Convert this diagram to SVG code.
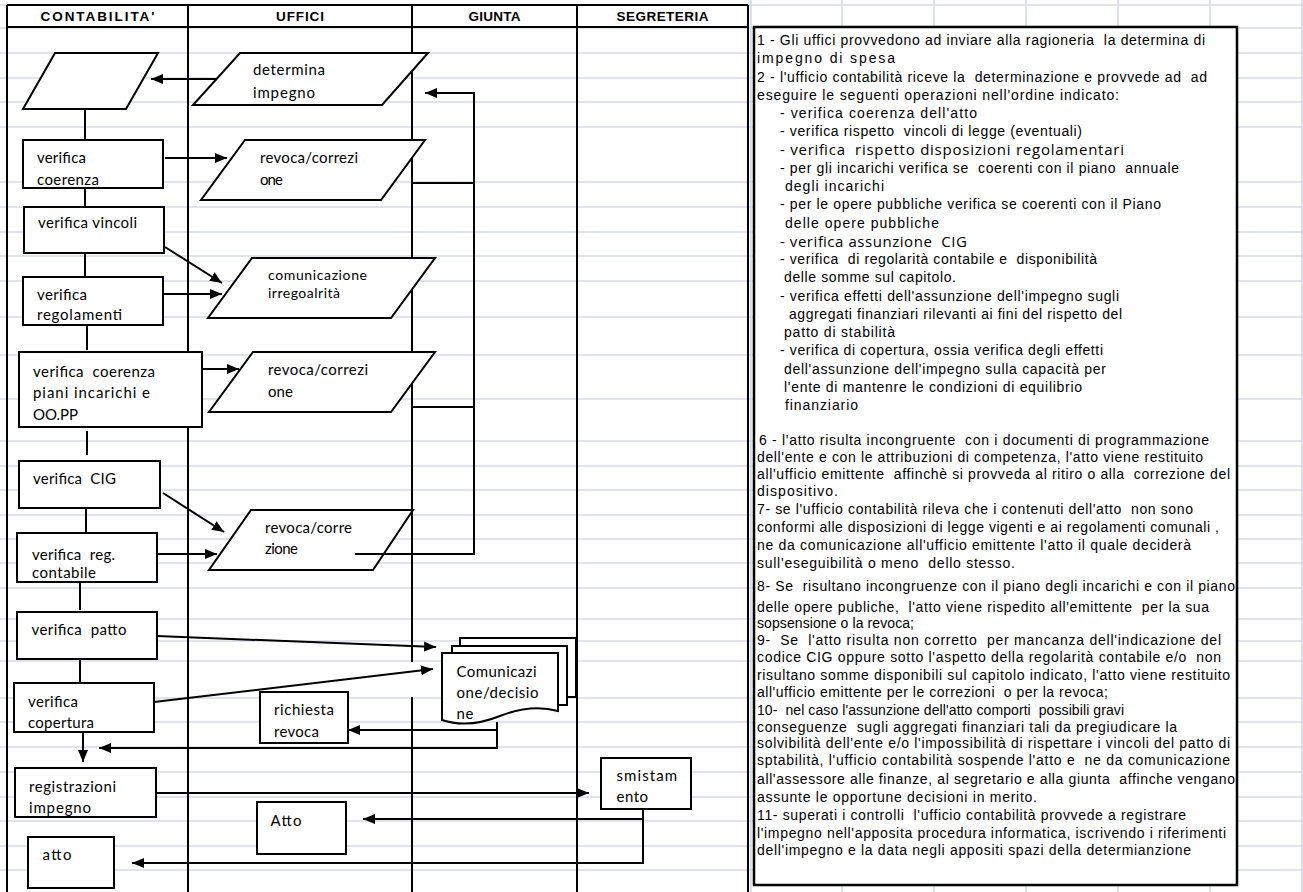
<svg xmlns="http://www.w3.org/2000/svg" width="1303" height="892" viewBox="0 0 1303 892">
<style>
.grid{stroke:#d3dae7;stroke-width:1.6;fill:none}
.lane{stroke:#000;stroke-width:2;fill:none}
.shape{fill:#fff;stroke:#000;stroke-width:2}
.conn{stroke:#000;stroke-width:2;fill:none}
.arr{marker-end:url(#ah)}
.hd{font-family:"Liberation Sans Narrow","Liberation Sans",Arial,sans-serif;font-weight:bold;font-size:13.5px;text-anchor:middle}
.lbl{font-family:Lato,"Liberation Sans",sans-serif;font-size:15px;white-space:pre}
.tx{font-family:"Liberation Sans",Arial,sans-serif;font-size:14px;white-space:pre}
.tx2{font-family:"Open Sans","Liberation Sans",sans-serif;font-size:15px;white-space:pre}
</style>
<defs>
<marker id="ah" markerWidth="13" markerHeight="11" refX="12" refY="5.5" orient="auto" markerUnits="userSpaceOnUse"><path d="M0,0.5 L12,5.5 L0,10.5 z" fill="#000"/></marker>
</defs>
<rect x="0" y="0" width="1303" height="892" fill="#fff"/>
<g id="grid" class="grid">
<path d="M0,5H1303M0,28H1303M0,53H1303M0,78H1303M0,102H1303M0,127H1303M0,182H1303M0,207H1303M0,232H1303M0,256H1303M0,281H1303M0,317H1303M0,355H1303M0,399H1303M0,441H1303M0,466H1303M0,490H1303M0,515H1303M0,539H1303M0,563H1303M0,588H1303M0,619H1303M0,641H1303M0,661H1303M0,698H1303M0,722H1303M0,747H1303M0,772H1303M0,797H1303M0,821H1303M0,846H1303M0,870H1303"/>
<path d="M751,0V892M842,0V892M934,0V892M1026,0V892M1118,0V892M1210,0V892M1302,0V892"/>
</g>
<g id="lanes">
<path class="lane" d="M7,5H748M7,27H748M7,5V892M188,5V892M412,5V662M412,697V892M577,5V892M748,5V892"/>
<text class="hd" x="97.5" y="21" textLength="114">CONTABILITA'</text>
<text class="hd" x="300" y="21" textLength="48">UFFICI</text>
<text class="hd" x="494.5" y="21" textLength="52">GIUNTA</text>
<text class="hd" x="662.5" y="21" textLength="92">SEGRETERIA</text>
</g>
<g id="connectors">
<path class="conn" d="M85,109V140M85,188V207M85,253V277M87,325V350M87,431V455M86,508V533M80,582V610M80,659V685"/>
</g>
<g id="n-start"><polygon class="shape" points="55,53 158,53 126,109 23,109"/></g>
<g id="n-determina"><polygon class="shape" points="240,53 428,53 382,105 193,105"/>
<text class="lbl" x="253" y="75" textLength="72">determina</text><text class="lbl" x="253" y="98" textLength="62">impegno</text></g>
<g id="n-coerenza"><rect class="shape" x="23" y="140" width="140" height="48"/>
<text class="lbl" x="37" y="163" textLength="49">verifica</text><text class="lbl" x="37" y="185" textLength="62">coerenza</text></g>
<g id="n-revoca1"><polygon class="shape" points="245,140 425,140 381,200 201,200"/>
<text class="lbl" x="260" y="163" textLength="98">revoca/correzi</text><text class="lbl" x="260" y="185" textLength="23">one</text></g>
<g id="n-vincoli"><rect class="shape" x="24" y="207" width="140" height="46"/>
<text class="lbl" x="38" y="228" textLength="99">verifica vincoli</text></g>
<g id="n-comunicazione"><polygon class="shape" points="252,258 435,258 391,318 208,318"/>
<text class="lbl" x="268" y="280" textLength="99" style="font-size:14px">comunicazione</text><text class="lbl" x="268" y="298" textLength="72" style="font-size:14px">irregoalrità</text></g>
<g id="n-regolamenti"><rect class="shape" x="23" y="277" width="140" height="48"/>
<text class="lbl" x="37" y="300" textLength="50">verifica</text><text class="lbl" x="37" y="320" textLength="85">regolamenti</text></g>
<g id="n-piani"><rect class="shape" x="19" y="352" width="183" height="75"/>
<text class="lbl" x="33" y="377" textLength="122">verifica  coerenza</text><text class="lbl" x="33" y="398" textLength="117">piani incarichi e</text><text class="lbl" x="33" y="420" textLength="45">OO.PP</text></g>
<g id="n-revoca2"><polygon class="shape" points="253,352 435,352 391,412 209,412"/>
<text class="lbl" x="268" y="375" textLength="100">revoca/correzi</text><text class="lbl" x="268" y="397" textLength="25">one</text></g>
<g id="n-cig"><rect class="shape" x="19" y="461" width="141" height="47"/>
<text class="lbl" x="33" y="484" textLength="83">verifica  CIG</text></g>
<g id="n-revoca3"><polygon class="shape" points="251,510 413,510 373,570 209,570"/>
<text class="lbl" x="265" y="533" textLength="87">revoca/corre</text><text class="lbl" x="265" y="554" textLength="33">zione</text></g>
<g id="n-regcontabile"><rect class="shape" x="17" y="533" width="140" height="49"/>
<text class="lbl" x="32" y="560" textLength="83">verifica  reg.</text><text class="lbl" x="32" y="578" textLength="64">contabile</text></g>
<g id="n-patto"><rect class="shape" x="17" y="612" width="140" height="47"/>
<text class="lbl" x="31.5" y="635" textLength="95">verifica  patto</text></g>
<g id="n-copertura"><rect class="shape" x="14" y="683" width="140" height="49"/>
<text class="lbl" x="28" y="707" textLength="50">verifica</text><text class="lbl" x="28" y="728" textLength="66">copertura</text></g>
<g id="n-comdecisione">
<rect class="shape" x="460" y="638" width="116" height="59"/>
<rect class="shape" x="452" y="646" width="115" height="59"/>
<path class="shape" d="M442,653H558V711C540,706 520,708 500,716C480,724 460,726 442,720Z"/>
<text class="lbl" x="456.5" y="677" textLength="80">Comunicazi</text><text class="lbl" x="456.5" y="698" textLength="82">one/decisio</text><text class="lbl" x="456.5" y="719" textLength="17">ne</text></g>
<g id="n-richiesta"><rect class="shape" x="260" y="692" width="88" height="51"/>
<text class="lbl" x="274" y="715" textLength="60">richiesta</text><text class="lbl" x="274" y="737" textLength="45">revoca</text></g>
<g id="n-registrazioni"><rect class="shape" x="15" y="768" width="141" height="49"/>
<text class="lbl" x="29" y="792" textLength="87">registrazioni</text><text class="lbl" x="29" y="813" textLength="62">impegno</text></g>
<g id="n-smistamento"><rect class="shape" x="601" y="758" width="90" height="51"/>
<text class="lbl" x="616.5" y="781" textLength="60.5">smistam</text><text class="lbl" x="616.5" y="802" textLength="31.5">ento</text></g>
<g id="n-Atto"><rect class="shape" x="257" y="802" width="89" height="52"/>
<text class="lbl" x="270.5" y="826" textLength="31">Atto</text></g>
<g id="n-atto"><rect class="shape" x="28" y="837" width="86" height="51"/>
<text class="lbl" x="42.5" y="860" textLength="29">atto</text></g>
<g id="arrows" class="conn">
<path class="arr" d="M216,79H151"/>
<path class="arr" d="M165,158H227"/>
<path class="arr" d="M165,247L222,283"/>
<path class="arr" d="M163,294H222"/>
<path class="arr" d="M203,369H239"/>
<path class="arr" d="M163,493L224,532"/>
<path class="arr" d="M158,554H217"/>
<path class="arr" d="M355,554H474V93H425"/>
<path d="M412,183H474M412,407H474"/>
<path class="arr" d="M157,636L436,647"/>
<path class="arr" d="M154,702L433,669"/>
<path class="arr" d="M497,722V748H99"/>
<path class="arr" d="M497,730H348"/>
<path class="arr" d="M83,732V762"/>
<path class="arr" d="M156,793H589"/>
<path class="arr" d="M643,809V863H132"/>
<path class="arr" d="M643,819H363"/>
</g>
<g id="note">
<rect x="754" y="27" width="483" height="858" fill="#fff" stroke="#000" stroke-width="2.5"/>
<text class="tx" x="757" y="45" textLength="448">1 - Gli uffici provvedono ad inviare alla ragioneria  la determina di</text>
<text class="tx" x="757" y="63" textLength="138">impegno di spesa</text>
<text class="tx" x="757" y="81.5" textLength="450">2 - l'ufficio contabilità riceve la  determinazione e provvede ad  ad</text>
<text class="tx" x="757" y="100" textLength="362">eseguire le seguenti operazioni nell'ordine indicato:</text>
<text class="tx" x="780" y="118" textLength="197">- verifica coerenza dell'atto</text>
<text class="tx" x="780" y="136" textLength="302">- verifica rispetto  vincoli di legge (eventuali)</text>
<text class="tx2" x="780" y="155" textLength="344">- verifica  rispetto disposizioni regolamentari</text>
<text class="tx" x="780" y="173" textLength="399">- per gli incarichi verifica se  coerenti con il piano  annuale</text>
<text class="tx" x="785" y="191" textLength="99">degli incarichi</text>
<text class="tx" x="780" y="209" textLength="381">- per le opere pubbliche verifica se coerenti con il Piano</text>
<text class="tx" x="785" y="227.5" textLength="154">delle opere pubbliche</text>
<text class="tx2" x="780" y="246.5" textLength="187">- verifica assunzione  CIG</text>
<text class="tx" x="780" y="264" textLength="317">- verifica  di regolarità contabile e  disponibilità</text>
<text class="tx" x="784" y="282" textLength="172">delle somme sul capitolo.</text>
<text class="tx" x="780" y="300.5" textLength="339">- verifica effetti dell'assunzione dell'impegno sugli</text>
<text class="tx" x="789" y="319" textLength="333">aggregati finanziari rilevanti ai fini del rispetto del</text>
<text class="tx" x="784" y="337" textLength="111">patto di stabilità</text>
<text class="tx" x="780" y="355" textLength="323">- verifica di copertura, ossia verifica degli effetti</text>
<text class="tx" x="784" y="373.5" textLength="322">dell'assunzione dell'impegno sulla capacità per</text>
<text class="tx" x="784" y="392" textLength="298">l'ente di mantenre le condizioni di equilibrio</text>
<text class="tx" x="785" y="410" textLength="73">finanziario</text>
<text class="tx" x="759" y="445" textLength="450">6 - l'atto risulta incongruente  con i documenti di programmazione</text>
<text class="tx" x="757" y="462" textLength="446">dell'ente e con le attribuzioni di competenza, l'atto viene restituito</text>
<text class="tx" x="757" y="479" textLength="473">all'ufficio emittente  affinchè si provveda al ritiro o alla  correzione del</text>
<text class="tx" x="757" y="496" textLength="81">dispositivo.</text>
<text class="tx" x="757" y="514" textLength="436">7- se l'ufficio contabilità rileva che i contenuti dell'atto  non sono</text>
<text class="tx" x="757" y="532" textLength="462">conformi alle disposizioni di legge vigenti e ai regolamenti comunali ,</text>
<text class="tx" x="757" y="550" textLength="434">ne da comunicazione all'ufficio emittente l'atto il quale deciderà</text>
<text class="tx" x="757" y="568" textLength="258">sull'eseguibilità o meno  dello stesso.</text>
<text class="tx" x="757" y="591" textLength="478">8- Se  risultano incongruenze con il piano degli incarichi e con il piano</text>
<text class="tx" x="757" y="612" textLength="452">delle opere publiche,  l'atto viene rispedito all'emittente  per la sua</text>
<text class="tx" x="757" y="628" textLength="157">sopsensione o la revoca;</text>
<text class="tx" x="757" y="645" textLength="464">9-  Se  l'atto risulta non corretto  per mancanza dell'indicazione del</text>
<text class="tx" x="757" y="662" textLength="464">codice CIG oppure sotto l'aspetto della regolarità contabile e/o  non</text>
<text class="tx" x="757" y="680" textLength="473">risultano somme disponibili sul capitolo indicato, l'atto viene restituito</text>
<text class="tx" x="757" y="697" textLength="351">all'ufficio emittente per le correzioni  o per la revoca;</text>
<text class="tx" x="757" y="715" textLength="367">10-  nel caso l'assunzione dell'atto comporti  possibili gravi</text>
<text class="tx" x="757" y="732" textLength="420">conseguenze  sugli aggregati finanziari tali da pregiudicare la</text>
<text class="tx" x="757" y="748" textLength="473">solvibilità dell'ente e/o l'impossibilità di rispettare i vincoli del patto di</text>
<text class="tx" x="757" y="765" textLength="473">sptabilità, l'ufficio contabilità sospende l'atto e  ne da comunicazione</text>
<text class="tx" x="757" y="784" textLength="478">all'assessore alle finanze, al segretario e alla giunta  affinche vengano</text>
<text class="tx" x="757" y="802" textLength="280">assunte le opportune decisioni in merito.</text>
<text class="tx" x="757" y="820" textLength="429">11- superati i controlli  l'ufficio contabilità provvede a registrare</text>
<text class="tx" x="757" y="838" textLength="469">l'impegno nell'apposita procedura informatica, iscrivendo i riferimenti</text>
<text class="tx" x="757" y="855" textLength="434">dell'impegno e la data negli appositi spazi della determianzione</text>
</g>
</svg>
